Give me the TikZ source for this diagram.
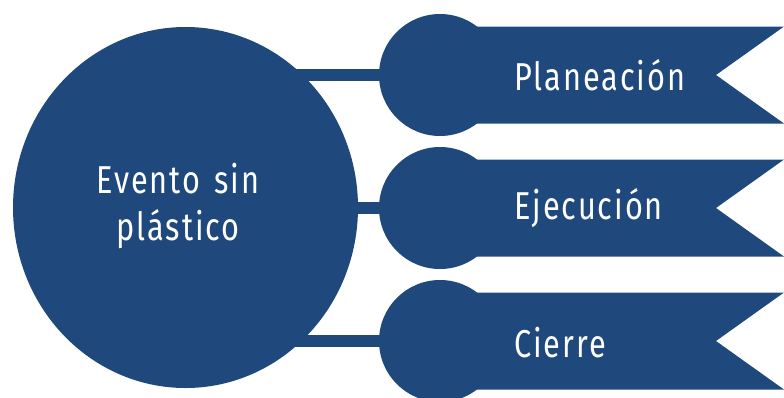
\documentclass[tikz,border=0pt]{standalone}
\usepackage{fontspec}
\usetikzlibrary{shapes.geometric,backgrounds}
\setmainfont{Fira Sans}
\newfontfamily\labelfont[FakeStretch=0.79,LetterSpace=5,WordSpace=1.4]{Fira Sans}
\definecolor{navy}{HTML}{1F497D}
\begin{document}
\begin{tikzpicture}[x=1bp,y=-1bp,
  dot/.style={circle,fill=navy,inner sep=0pt,minimum size=#1},
  bar/.style={navy,line width=11.5bp},
  lbl/.style={text=white,font=\labelfont\fontsize{39}{47}\selectfont,inner sep=0pt},
]
\useasboundingbox (0,0) rectangle (784,397);
% ribbons
\foreach \n/\y in {1/75,2/208,3/341}{
  \coordinate (r\n a) at (440,\y-48.5);
  \coordinate (r\n b) at (784,\y-48.5);
  \coordinate (r\n t) at (716,\y);
  \coordinate (r\n c) at (784,\y+48.5);
  \coordinate (r\n d) at (440,\y+48.5);
  \fill[navy] (r\n a) -- (r\n b) -- (r\n t) -- (r\n c) -- (r\n d) -- cycle;
}
\node[ellipse,fill=navy,inner sep=0pt,minimum width=345bp,minimum height=361bp] (big) at (185.5,207.5) {};
\node[dot=122bp] (c1) at (440,75) {};
\node[dot=122bp] (c2) at (440,208) {};
\node[dot=122bp] (c3) at (440,341) {};
\begin{scope}[on background layer]
\draw[bar] (c1.center) -- (c1.center -| big.center);
\draw[bar] (c2.center) -- (c2.center -| big.center);
\draw[bar] (c3.center) -- (c3.center -| big.center);
\end{scope}
\node[lbl,align=center] (t0) at (178,206) {Evento sin\\plástico};
\node[lbl,anchor=west] (t1) at (514,75) {Planeación};
\node[lbl,anchor=west] (t2) at (514,208) {Ejecución};
\node[lbl,anchor=west] (t3) at (514,343) {Cierre};
\end{tikzpicture}
\end{document}
